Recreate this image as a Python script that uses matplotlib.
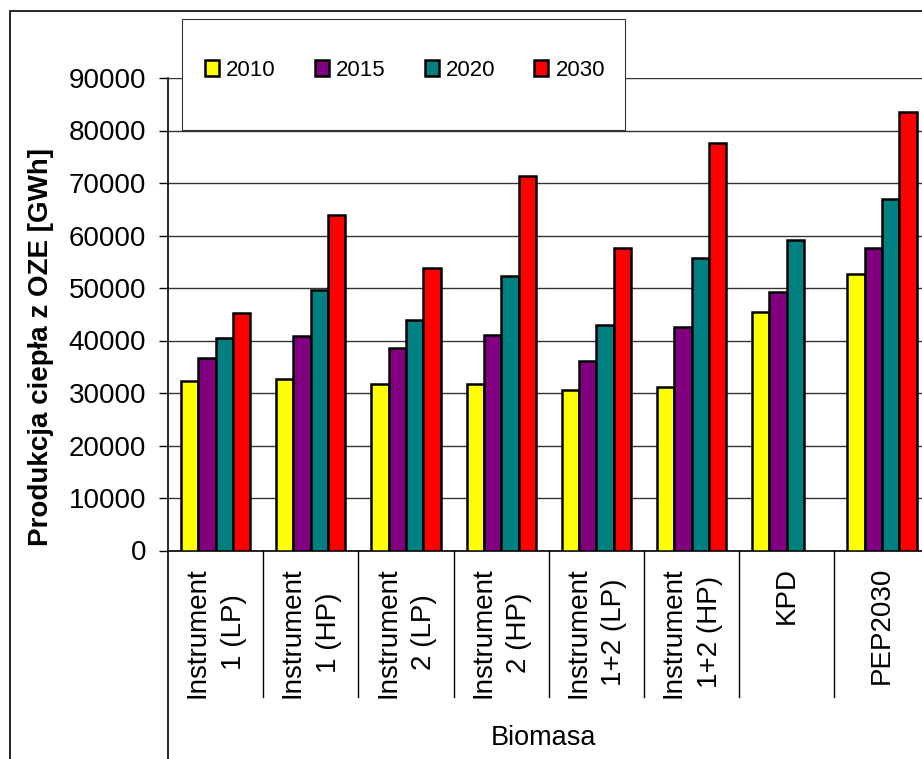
import numpy as np
import matplotlib
matplotlib.use('Agg')
import matplotlib.pyplot as plt
from matplotlib.patches import Rectangle

plt.rcParams['font.family'] = 'Liberation Sans'

#categories and series
categories = ['Instrument\n1 (LP)', 'Instrument\n1 (HP)', 'Instrument\n2 (LP)', 'Instrument\n2 (HP)',
              'Instrument\n1+2 (LP)', 'Instrument\n1+2 (HP)', 'KPD', 'PEP2030']
years = ['2010', '2015', '2020', '2030']
v2010 = [32200, 32600, 31700, 31700, 30600, 31200, 45400, 52700]
v2015 = [36600, 40900, 38500, 41000, 36100, 42500, 49300, 57700]
v2020 = [40400, 49700, 43900, 52300, 42900, 55700, 59100, 66900]
v2030 = [45300, 64000, 53800, 71300, 57600, 77600, np.nan, 83500]  # no 2030 value for KPD
colors = ['#FFFF00', '#800080', '#008080', '#FF0000']
yticks = np.arange(0, 90001, 10000)

fig = plt.figure(figsize=(9.22, 7.59), dpi=100)
ax = fig.add_axes([168/922, 208.5/759, 761.6/922, 472.5/759])

x = np.arange(len(categories))
w = 1/5.5
series = [v2010, v2015, v2020, v2030]
bars = []
for i in range(4):
    b = ax.bar(x + (i - 1.5)*w, series[i], width=w, color=colors[i],
               edgecolor='black', linewidth=1.8, zorder=3)
    bars.append(b)

ax.set_xlim(-0.5, 7.5)
ax.set_ylim(0, 90000)
ax.set_yticks(yticks)
ax.set_yticklabels([str(t) for t in yticks], fontsize=20)
ax.tick_params(axis='y', direction='out', length=6.5, width=1, pad=9.4)
ax.set_xticks([])
ax.grid(True, axis='y', color='#333333', linewidth=1, zorder=0)
ax.spines['top'].set_visible(False)
ax.spines['right'].set_visible(False)
ax.spines['left'].set_linewidth(1.2)
ax.spines['bottom'].set_linewidth(1.2)

#category labels and separators under the axis
tr = ax.get_xaxis_transform()
for i in range(len(categories)):
    ax.text(i, -0.035, categories[i], rotation=90, ha='center', va='top',
            multialignment='center', linespacing=1.5, fontsize=20, transform=tr)
for bnd in np.arange(0.5, 7.5, 1):
    ax.plot([bnd, bnd], [0, -0.31], color='black', lw=1, transform=tr, clip_on=False)
ax.plot([-0.5, -0.5], [0, -0.5], color='black', lw=1.2, transform=tr, clip_on=False)
ax.text(3.44, -0.4116, 'Biomasa', ha='center', va='baseline', fontsize=19.5, transform=tr)

fig.text(41.5/922, (759-346.5)/759, 'Produkcja ciepła z OZE [GWh]', rotation=90,
         ha='center', va='center', fontsize=20, fontweight='bold')

#legend box and outer border
fig.patches.append(Rectangle((182/922, (759-130)/759), 443/922, 111/759, facecolor='white',
                             edgecolor='#333333', lw=0.8, transform=fig.transFigure, zorder=2))
fig.patches.append(Rectangle((10/922, -0.1), 1.5, 0.9855 + 0.1, fill=False,
                             edgecolor='black', lw=1.2, transform=fig.transFigure, zorder=2))
fig.legend(bars, years, loc='center left', bbox_to_anchor=(205/922, (759-70.5)/759), ncol=4,
           frameon=False, fontsize=16, handlelength=0.63, handleheight=0.75,
           handletextpad=0.32, columnspacing=1.76, borderpad=0, borderaxespad=0)

plt.savefig('out.png', dpi=100)
